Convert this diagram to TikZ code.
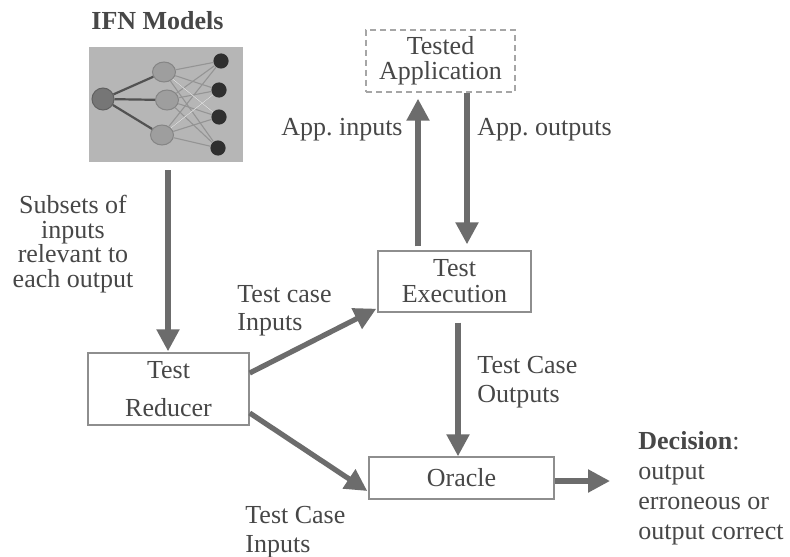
\documentclass[tikz,border=0pt]{standalone}
\usepackage{fontspec}
\setmainfont{Liberation Serif}
\usetikzlibrary{arrows.meta,calc,shapes.geometric}
\frenchspacing

\definecolor{ink}{HTML}{474747}
\definecolor{frame}{HTML}{8E8E8E}
\definecolor{flow}{HTML}{6C6C6C}
\definecolor{netbg}{HTML}{B6B6B6}
\definecolor{inputnode}{HTML}{767676}
\definecolor{hiddennode}{HTML}{9E9E9E}
\definecolor{outputnode}{HTML}{2F2F2F}

\begin{document}
\begin{tikzpicture}[x=0.5pt,y=-0.5pt,
  box/.style={draw=frame, line width=0.7pt, fill=white, inner sep=0pt,
    align=center, text=ink},
  lbl/.style={inner sep=0pt, text=ink, font=\fontsize{13}{14.5}\selectfont},
  flowarrow/.style={draw=flow, line width=2.6pt,
    -{Triangle[length=11pt,width=11pt]}},
  thickedge/.style={draw=black!68, line width=1.1pt},
  thinedge/.style={draw=black!42, line width=0.55pt},
  paleedge/.style={draw=black!15, line width=0.45pt}
]
\useasboundingbox[fill=white] (0,0) rectangle (790,556);

% ---------- IFN model picture ----------
\node[lbl, font=\bfseries\fontsize{13}{15}\selectfont, anchor=north]
  (ifnlabel) at (157.5,11) {IFN Models};
\node[fill=netbg, minimum width=77pt, minimum height=57.5pt, inner sep=0pt]
  (net) at (166,104.5) {};

\node[circle, fill=inputnode, draw=black!62, line width=0.5pt,
  minimum size=11pt, inner sep=0pt] (n0) at (103,99) {};
\foreach \name/\px/\py in {m1/164/72, m2/167/100, m3/162/135}
  \node[ellipse, fill=hiddennode, draw=black!48, line width=0.5pt,
    minimum width=11.5pt, minimum height=10pt, inner sep=0pt]
    (\name) at (\px,\py) {};
\foreach \name/\px/\py in {r1/221/61, r2/219/90, r3/219/117, r4/218/148}
  \node[circle, fill=outputnode, minimum size=7.6pt, inner sep=0pt]
    (\name) at (\px,\py) {};

\foreach \m in {m1,m2,m3}
  \draw[thickedge] (n0) -- (\m);
\foreach \m in {m1,m2,m3}
  \foreach \r in {r1,r2,r3,r4}
    \draw[thinedge] (\m) -- (\r);
\draw[paleedge] (m1) -- (r3);
\draw[paleedge] (m3) -- (r2);

% ---------- process boxes ----------
\node[box, minimum width=74.5pt, minimum height=31pt, draw=black!35,
  densely dashed, font=\fontsize{13}{12.5}\selectfont]
  (app) at (440.5,61) {Tested\\Application};
\node[box, minimum width=76.5pt, minimum height=30.5pt,
  font=\fontsize{13}{13}\selectfont]
  (exec) at (454.5,281.5) {Test\\Execution};
\node[box, minimum width=80.5pt, minimum height=36pt,
  font=\fontsize{13}{19}\selectfont]
  (reducer) at (168.5,389) {Test\\Reducer};
\node[box, minimum width=92.5pt, minimum height=21pt,
  font=\fontsize{13}{15}\selectfont]
  (oracle) at (461.5,478) {Oracle};

% ---------- arrow lanes ----------
\coordinate (ifnx) at (168,0);
\coordinate (upx) at (418,0);
\coordinate (dnx) at (467,0);
\coordinate (outx) at (458,0);
\coordinate (decend) at (610,481);

% ---------- connectors ----------
\draw[flowarrow] ($(net.south -| ifnx)+(0,8)$) -- ($(reducer.north -| ifnx)+(0,-1)$);
\draw[flowarrow] ($(exec.north -| upx)+(0,-4)$) -- ($(app.south -| upx)+(0,6)$);
\draw[flowarrow] (app.south -| dnx) -- ($(exec.north -| dnx)+(0,-6)$);
\draw[flowarrow] ($(exec.south -| outx)+(0,10)$) -- (oracle.north -| outx);
\draw[flowarrow] ($(reducer.east)+(0,-16)$) -- ($(exec.south west)+(-1,-4)$);
\draw[flowarrow] ($(reducer.east)+(0,24)$) -- ($(oracle.west)+(-1,13)$);
\draw[flowarrow] ($(oracle.east)+(0,3)$) -- (decend);

% ---------- labels ----------
\node[lbl, align=center, anchor=north, font=\fontsize{13}{12.4}\selectfont]
  (subsets) at (73,194.5) {Subsets of\\inputs\\relevant to\\each output};
\node[lbl, anchor=base east] (appin) at (403,135) {App. inputs};
\node[lbl, anchor=base west] (appout) at (477,135) {App. outputs};
\node[lbl, align=left, anchor=north west, font=\fontsize{13}{14}\selectfont]
  (tcin) at (237,285) {Test case\\Inputs};
\node[lbl, align=left, anchor=north west]
  (tcout) at (477,356) {Test Case\\Outputs};
\node[lbl, align=left, anchor=north west]
  (tcin2) at (245,506) {Test Case\\Inputs};
\node[lbl, align=left, anchor=north west, font=\fontsize{13}{15}\selectfont]
  (decision) at (638,431) {\textbf{Decision}:\\output\\erroneous or\\output correct};
\end{tikzpicture}
\end{document}
